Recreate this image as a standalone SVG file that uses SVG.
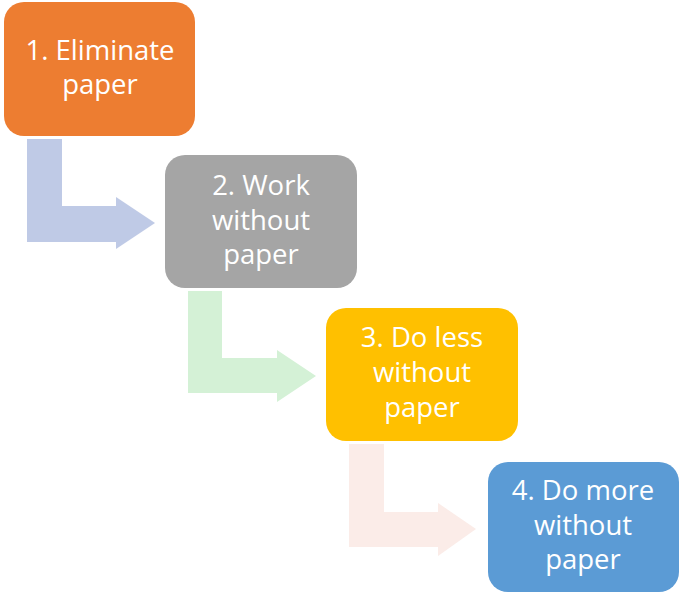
<svg xmlns="http://www.w3.org/2000/svg" width="688" height="595" viewBox="0 0 688 595">
<style>
.lbl{font-family:"Open Sans","Liberation Sans",Arial,sans-serif;font-size:27.5px;fill:#ffffff;text-anchor:middle}
</style>
<rect width="688" height="595" fill="#ffffff"/>
<g id="connectors">
<path d="M27,139 H62 V206 H116 V197 L155,223 L116,249 V242 H27 Z" fill="#BFCAE6"/>
<path d="M188,291 H222 V358 H277 V350 L316,376 L277,402 V393 H188 Z" fill="#D4F1D6"/>
<path d="M349,444 H384 V512 H438 V503 L476,529 L438,556 V547 H349 Z" fill="#FBECE8"/>
</g>
<g id="node1">
<rect x="4" y="2" width="191" height="134" rx="20" fill="#ED7D31"/>
<text class="lbl" x="100" y="60">1. Eliminate</text>
<text class="lbl" x="100" y="94">paper</text>
</g>
<g id="node2">
<rect x="165" y="155" width="192" height="133" rx="20" fill="#A5A5A5"/>
<text class="lbl" x="261" y="195">2. Work</text>
<text class="lbl" x="261" y="230">without</text>
<text class="lbl" x="261" y="264">paper</text>
</g>
<g id="node3">
<rect x="326" y="308" width="192" height="133" rx="20" fill="#FFC000"/>
<text class="lbl" x="422" y="347">3. Do less</text>
<text class="lbl" x="422" y="382">without</text>
<text class="lbl" x="422" y="417">paper</text>
</g>
<g id="node4">
<rect x="488" y="462" width="191" height="130" rx="20" fill="#5B9BD5"/>
<text class="lbl" x="583" y="500">4. Do more</text>
<text class="lbl" x="583" y="535">without</text>
<text class="lbl" x="583" y="569">paper</text>
</g>
</svg>
